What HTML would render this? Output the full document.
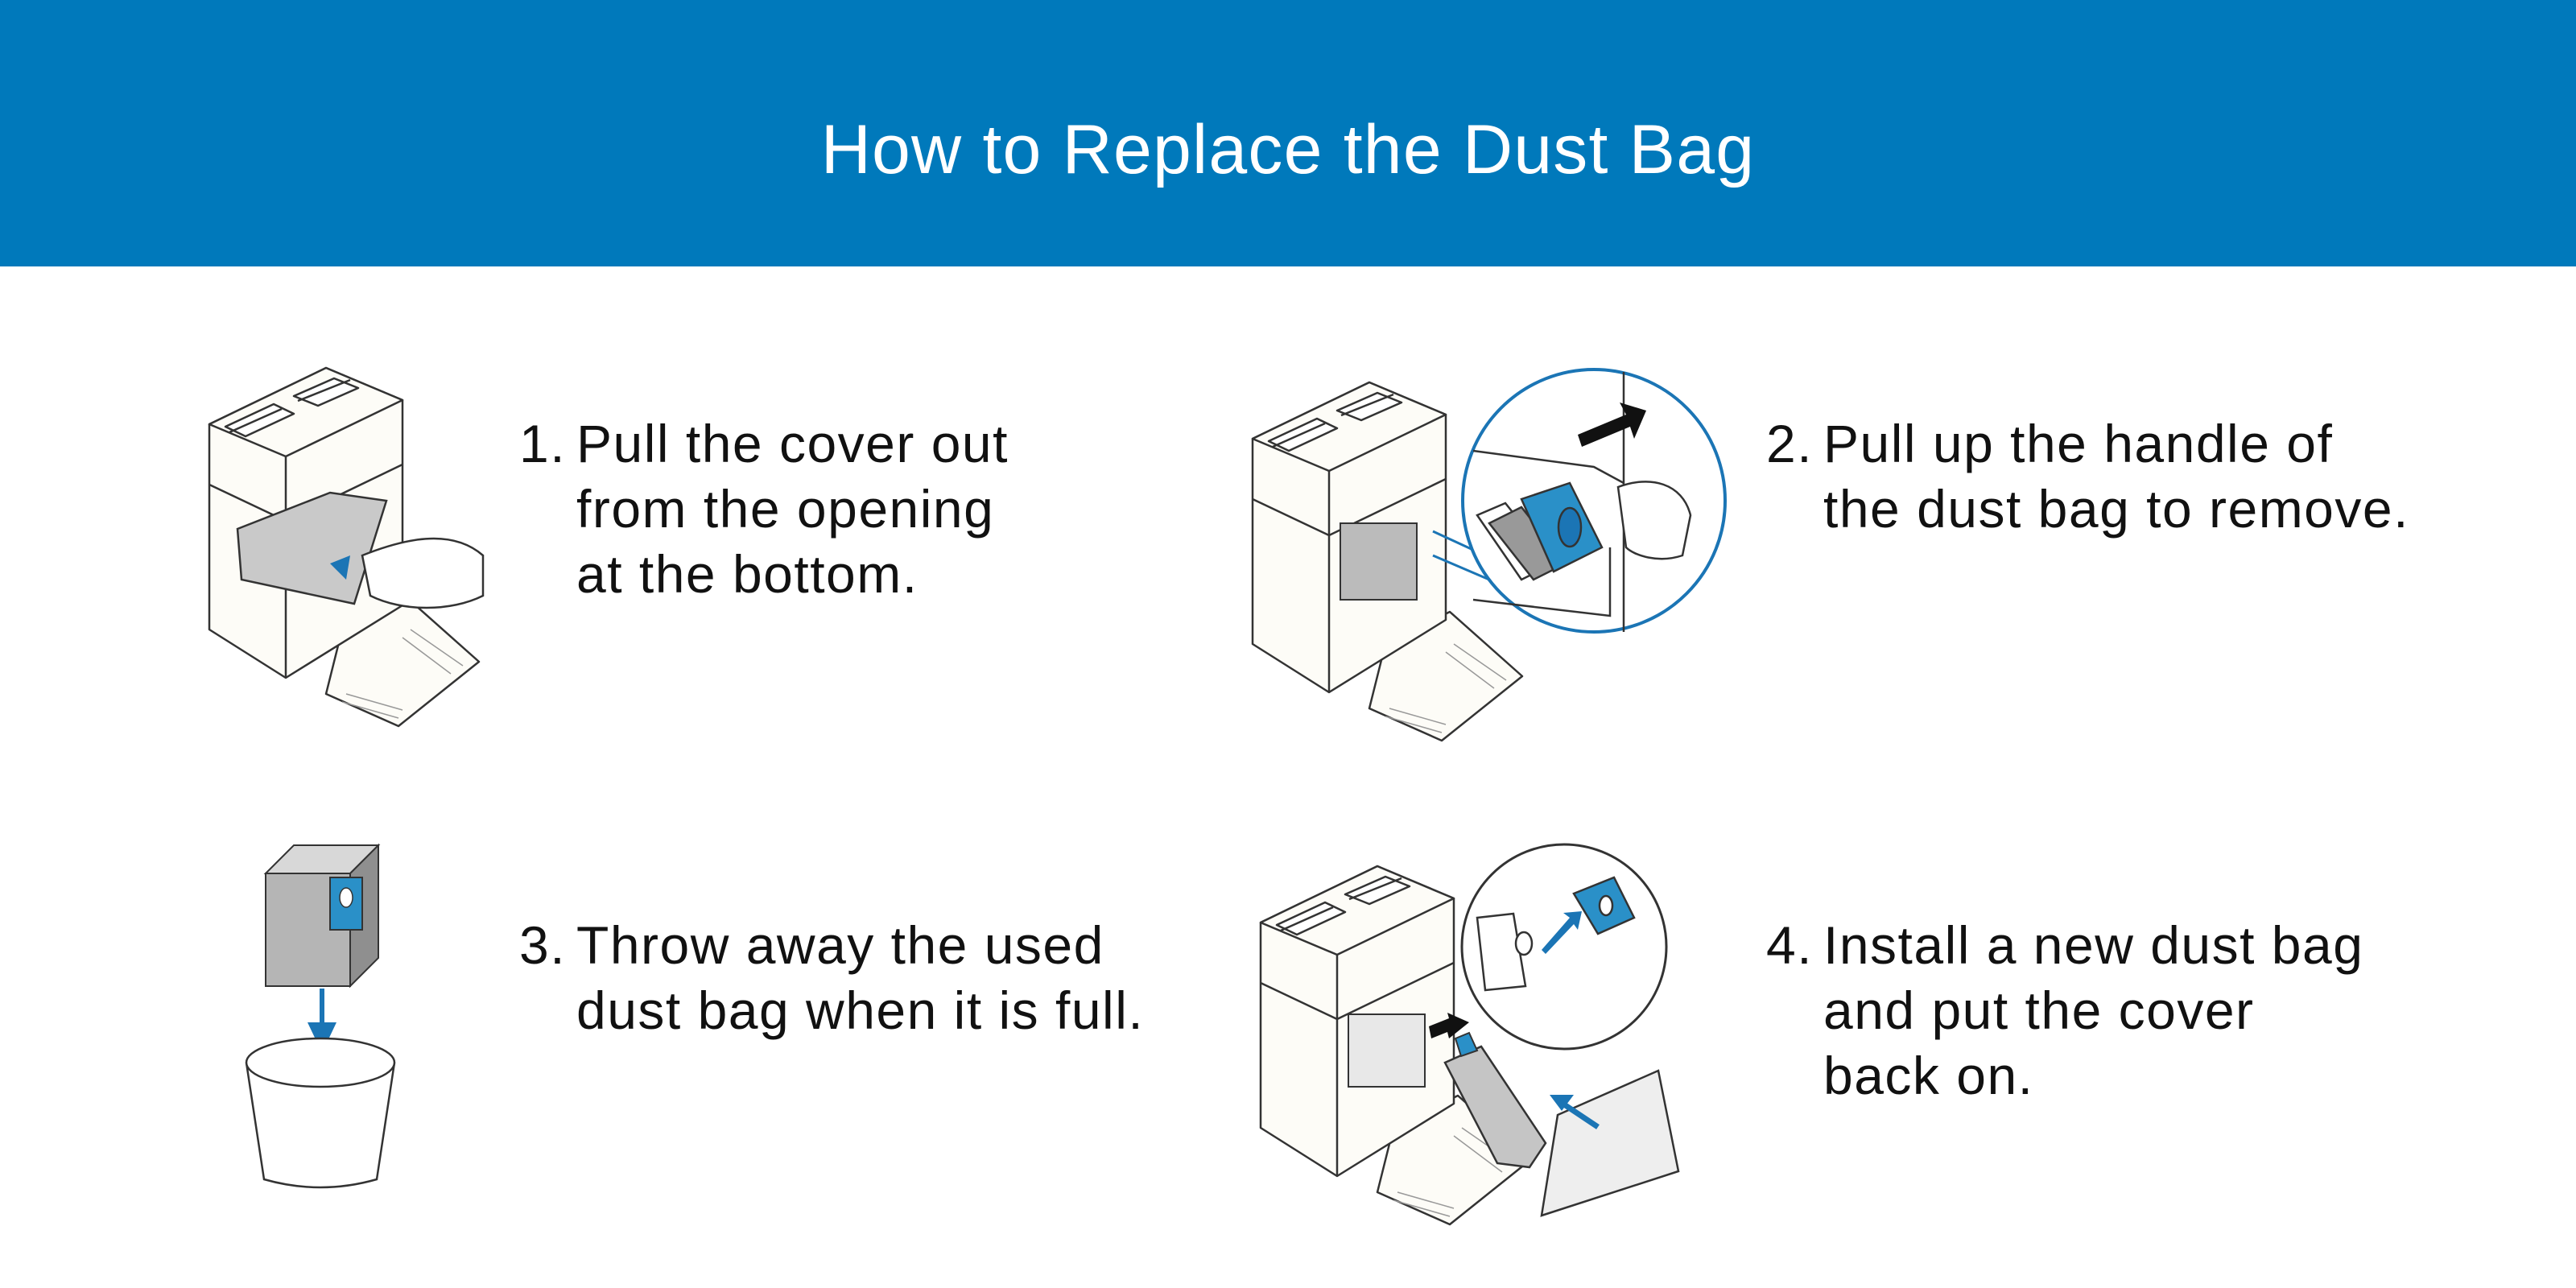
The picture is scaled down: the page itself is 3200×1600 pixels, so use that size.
<!DOCTYPE html>
<html><head><meta charset="utf-8"><style>
html,body{margin:0;padding:0;background:#fff}
body{width:3200px;height:1600px;position:relative;overflow:hidden;font-family:"Liberation Sans",sans-serif}
.hdr{position:absolute;left:0;top:0;width:3200px;height:331px;background:#0079bb}
.title{position:absolute;left:0;width:3200px;top:136px;text-align:center;color:#fff;font-size:86px;line-height:100px;letter-spacing:1.2px}
.t{position:absolute;color:#111;font-size:66px;line-height:81px;letter-spacing:1.5px}
.t .n{position:absolute;left:0}
.t .b{padding-left:71px;display:block;white-space:nowrap}
svg{position:absolute;left:0;top:0}
</style></head><body>
<div class="hdr"></div>
<div class="title">How to Replace the Dust Bag</div>

<div class="t" style="left:645px;top:511px"><span class="n">1.</span><span class="b">Pull the cover out<br>from the opening<br>at the bottom.</span></div>
<div class="t" style="left:2194px;top:511px"><span class="n">2.</span><span class="b">Pull up the handle of<br>the dust bag to remove.</span></div>
<div class="t" style="left:645px;top:1134px"><span class="n">3.</span><span class="b">Throw away the used<br>dust bag when it is full.</span></div>
<div class="t" style="left:2194px;top:1134px"><span class="n">4.</span><span class="b">Install a new dust bag<br>and put the cover<br>back on.</span></div>

<svg width="3200" height="1600" viewBox="0 0 3200 1600">
<defs>
<g id="dock" stroke="#333" stroke-width="2.5" fill="#fdfcf7" stroke-linejoin="round">
  <polygon points="170,330 250,290 340,370 240,450 150,410"/>
  <polygon points="5,75 150,5 245,45 245,300 100,390 5,330"/>
  <polygon points="5,75 150,5 245,45 100,115"/>
  <line x1="100" y1="115" x2="100" y2="390"/>
  <line x1="5" y1="150" x2="100" y2="195"/>
  <line x1="100" y1="195" x2="245" y2="125"/>
  <polygon points="25,78 85,50 110,62 50,90" fill="#fff"/>
  <polygon points="110,40 160,18 190,30 140,52" fill="#fff"/>
  <line x1="30" y1="85" x2="95" y2="56"/><line x1="115" y1="46" x2="180" y2="20"/>
  <g stroke="#999" stroke-width="1.5">
   <line x1="255" y1="330" x2="320" y2="375"/><line x1="245" y1="340" x2="305" y2="385"/>
   <line x1="170" y1="420" x2="240" y2="440"/><line x1="175" y1="410" x2="245" y2="430"/>
  </g>
</g>
</defs>

<use href="#dock" x="255" y="452"/>
<polygon points="295,657 410,612 480,622 440,750 300,720" fill="#c9c9c9" stroke="#333" stroke-width="2.5"/>
<path d="M450,690 C500,670 560,655 600,690 L600,740 C560,760 500,760 460,740 Z" fill="#fff" stroke="#333" stroke-width="2.5"/>
<polygon points="410,700 435,690 430,720" fill="#1b75b5"/>

<use href="#dock" x="1551" y="470"/>
<rect x="1665" y="650" width="95" height="95" fill="#bbb" stroke="#333" stroke-width="2"/>
<line x1="1780" y1="660" x2="1845" y2="690" stroke="#1b75b5" stroke-width="3"/>
<line x1="1780" y1="690" x2="1850" y2="720" stroke="#1b75b5" stroke-width="3"/>
<circle cx="1980" cy="622" r="163" fill="#fff" stroke="#1b75b5" stroke-width="4"/>
<g stroke="#333" stroke-width="2.5">
 <line x1="2017" y1="462" x2="2017" y2="785"/>
 <polyline points="1830,560 1980,580 2017,600" fill="none"/>
 <polyline points="1830,745 2000,765 2000,680" fill="none"/>
 <polygon points="1835,640 1870,625 1930,700 1890,720" fill="#fff"/>
 <polygon points="1850,650 1890,630 1945,700 1905,720" fill="#999"/>
 <polygon points="1890,620 1950,600 1990,680 1930,710" fill="#2a90c8"/>
 <ellipse cx="1950" cy="655" rx="14" ry="24" fill="#1b75b5"/>
 <path d="M2010,605 C2050,590 2090,600 2100,640 L2090,690 C2060,700 2030,690 2020,680 Z" fill="#fff"/>
</g>
<polygon points="1960,540 2020,515 2012,500 2045,510 2030,545 2025,530 1965,555" fill="#111"/>

<polygon points="330,1085 365,1050 470,1050 435,1085" fill="#d8d8d8" stroke="#333" stroke-width="2"/>
<polygon points="330,1085 435,1085 435,1225 330,1225" fill="#b5b5b5" stroke="#333" stroke-width="2"/>
<polygon points="435,1085 470,1050 470,1190 435,1225" fill="#8f8f8f" stroke="#333" stroke-width="2"/>
<rect x="410" y="1090" width="40" height="65" fill="#2a90c8" stroke="#333" stroke-width="2"/>
<ellipse cx="430" cy="1115" rx="8" ry="12" fill="#fff" stroke="#333" stroke-width="1.5"/>
<rect x="397" y="1228" width="6" height="50" fill="#1b75b5"/>
<polygon points="382,1270 418,1270 400,1308" fill="#1b75b5"/>
<path d="M306,1320 L328,1465 Q398,1485 468,1465 L490,1320" fill="#fff" stroke="#333" stroke-width="2.5"/>
<ellipse cx="398" cy="1320" rx="92" ry="30" fill="#fff" stroke="#333" stroke-width="2.5"/>

<use href="#dock" x="1561" y="1071"/>
<rect x="1675" y="1260" width="95" height="90" fill="#e8e8e8" stroke="#333" stroke-width="2"/>
<polygon points="1795,1320 1840,1300 1920,1420 1900,1450 1860,1445" fill="#c5c5c5" stroke="#333" stroke-width="2.5"/>
<polygon points="1808,1290 1825,1283 1835,1305 1815,1312" fill="#2a90c8" stroke="#333" stroke-width="2"/>
<polygon points="1775,1275 1800,1265 1798,1258 1825,1270 1800,1290 1798,1282 1778,1290" fill="#111"/>
<circle cx="1943" cy="1176" r="127" fill="#fff" stroke="#333" stroke-width="3"/>
<g stroke="#333" stroke-width="2.5">
 <polygon points="1835,1140 1880,1135 1895,1225 1845,1230" fill="#fff"/>
 <ellipse cx="1893" cy="1172" rx="10" ry="14" fill="#fff"/>
 <polygon points="1955,1110 2005,1090 2030,1140 1985,1160" fill="#2a90c8"/>
 <ellipse cx="1995" cy="1125" rx="8" ry="12" fill="#fff"/>
</g>
<polygon points="1915,1180 1950,1140 1942,1134 1965,1132 1960,1155 1955,1148 1920,1185" fill="#1b75b5"/>
<polygon points="1935,1385 2060,1330 2085,1455 1915,1510" fill="#eee" stroke="#333" stroke-width="2.5"/>
<line x1="1985" y1="1400" x2="1940" y2="1370" stroke="#1b75b5" stroke-width="7"/>
<polygon points="1925,1360 1955,1360 1940,1380" fill="#1b75b5"/>
</svg>
</body></html>
